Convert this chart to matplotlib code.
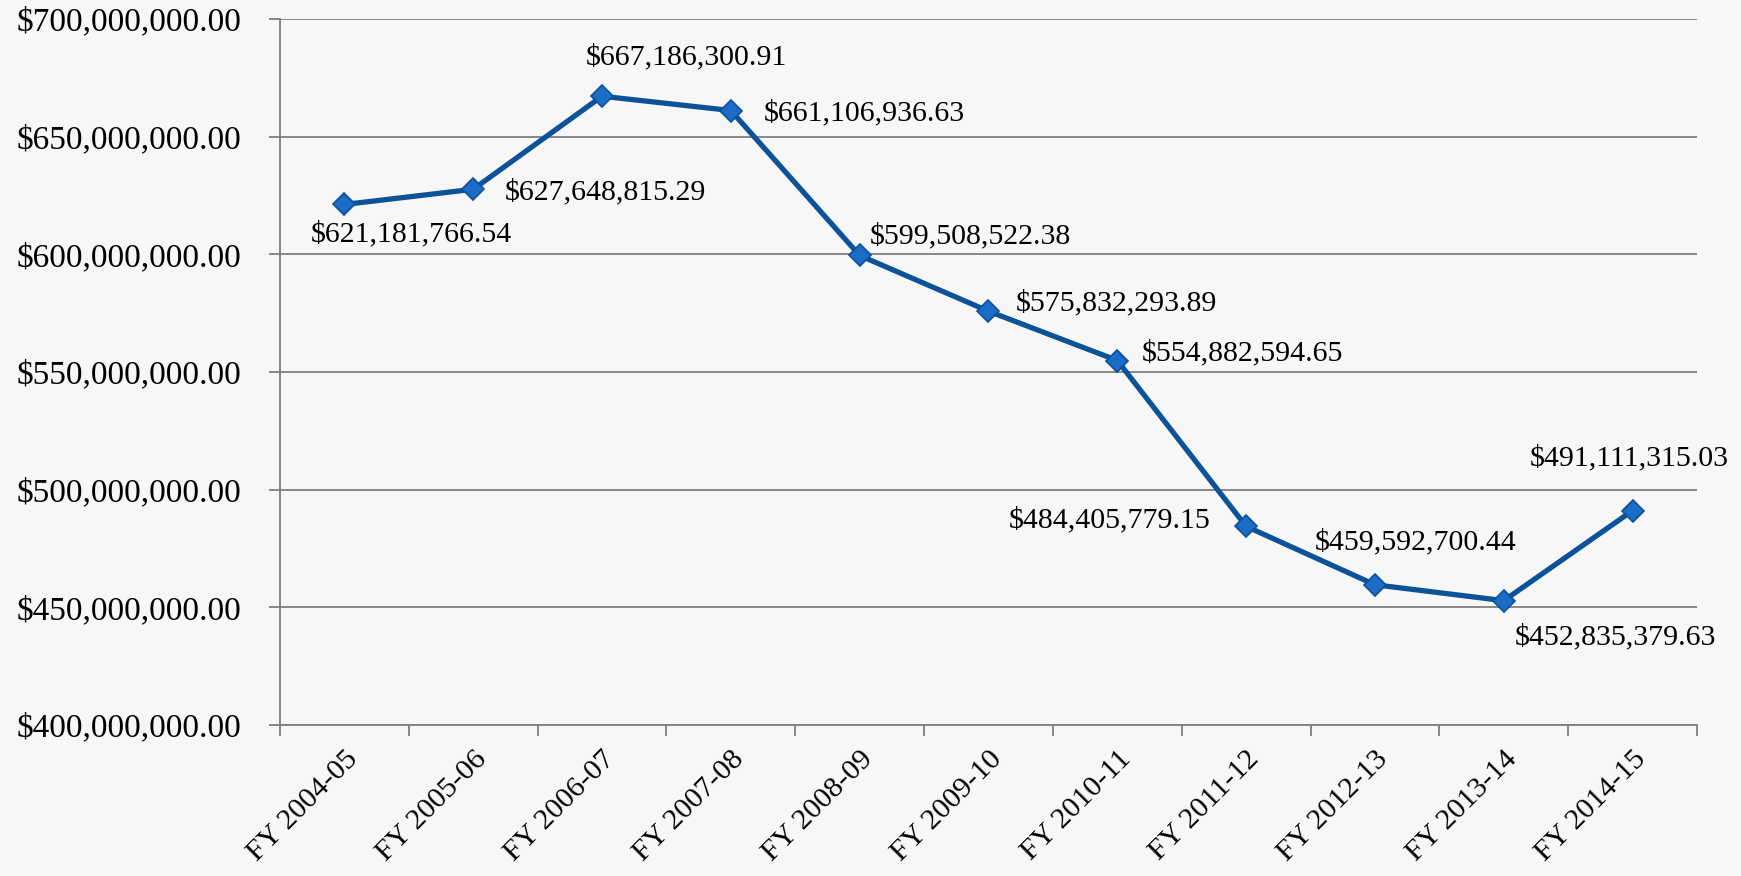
import matplotlib
matplotlib.use("Agg")
import matplotlib.pyplot as plt
from matplotlib.ticker import FixedLocator, FuncFormatter

categories = ["FY 2004-05", "FY 2005-06", "FY 2006-07", "FY 2007-08", "FY 2008-09",
              "FY 2009-10", "FY 2010-11", "FY 2011-12", "FY 2012-13", "FY 2013-14", "FY 2014-15"]
values = [621181766.54, 627648815.29, 667186300.91, 661106936.63, 599508522.38,
          575832293.89, 554882594.65, 484405779.15, 459592700.44, 452835379.63, 491111315.03]
y_ticks = [400e6, 450e6, 500e6, 550e6, 600e6, 650e6, 700e6]

# label placement (pixel offsets, alignment)
label_pos = [(67, -30, "center"), (32, -3, "left"), (84, 39, "center"), (33, -3, "left"),
             (10, 19, "left"), (27, 8, "left"), (24, 7, "left"), (-36, 6, "right"),
             (41, 43, "center"), (112, -36, "center"), (-3, 53, "center")]

plt.rcParams['font.family'] = ['Liberation Serif', 'DejaVu Serif']
bg = "#f7f7f7"
fig = plt.figure(figsize=(17.41, 8.76), dpi=100, facecolor=bg)
ax = fig.add_axes([280/1741, 1-725/876, (1697-280)/1741, (725-19)/876], facecolor=bg)

x = list(range(len(categories)))
ax.plot(x, values, color="#0b5299", lw=3.8, marker="D", ms=11,
        markerfacecolor="#1a6cc6", markeredgecolor="#0b5299", markeredgewidth=1.2, zorder=3)

for xi, v, (dx, dy, ha) in zip(x, values, label_pos):
    ax.annotate(f"${v:,.2f}", (xi, v), xytext=(dx, dy), textcoords="offset pixels",
                ha=ha, va="center", fontsize=21.5, color="black")

ax.set_xlim(-0.5, len(categories) - 0.5)
ax.set_ylim(400e6, 700e6)
ax.yaxis.set_major_locator(FixedLocator(y_ticks))
ax.yaxis.set_major_formatter(FuncFormatter(lambda v, p: f"${v:,.2f}"))
ax.grid(axis="y", color="#7f7f7f", lw=1.3)
ax.set_axisbelow(True)

ax.set_xticks(x)
ax.set_xticklabels(categories, rotation=45, ha="right", rotation_mode="anchor", fontsize=21.5)
ax.set_xticks([i - 0.5 for i in range(len(categories) + 1)], minor=True)
ax.tick_params(axis="x", which="major", length=0, pad=15)
ax.tick_params(axis="x", which="minor", length=8, width=1.3, color="#7f7f7f", direction="out")
ax.tick_params(axis="y", length=8, width=1.3, color="#7f7f7f", labelsize=24, pad=20)

for s in ["top", "right"]:
    ax.spines[s].set_visible(False)
for s in ["left", "bottom"]:
    ax.spines[s].set_color("#7f7f7f")
    ax.spines[s].set_linewidth(1.3)

fig.savefig("out.png", dpi=100, facecolor=bg)
